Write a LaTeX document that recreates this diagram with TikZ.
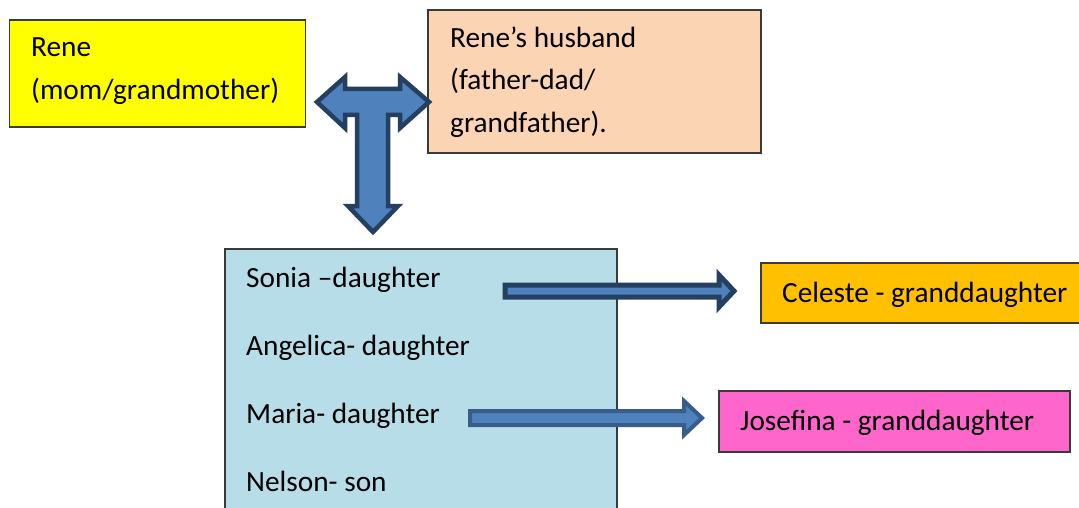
\documentclass[tikz,border=0pt]{standalone}
\usepackage{fontspec}
\setmainfont{Carlito}
\definecolor{boxline}{HTML}{3A3A3A}
\definecolor{yel}{HTML}{FFFF00}
\definecolor{peach}{HTML}{FBD4B4}
\definecolor{lblue}{HTML}{B7DDE8}
\definecolor{orng}{HTML}{FFC000}
\definecolor{pnk}{HTML}{FF66CC}
\definecolor{afill}{HTML}{4F81BD}
\definecolor{adark}{HTML}{243F60}
\definecolor{amid}{HTML}{385D8A}
\tikzset{
  boxstyle/.style={draw=boxline, line width=1.3pt, rectangle, inner sep=0pt, outer sep=0pt},
  txt/.style={anchor=base west, inner sep=0pt, font=\fontsize{29.3}{35}\selectfont},
  blockarrow/.style={fill=afill, line join=miter},
}
\begin{document}
\begin{tikzpicture}[x=1pt,y=-1pt]
\useasboundingbox (0,0) rectangle (1079,508);
\clip (0,0) rectangle (1079,508);
\fill[white] (0,0) rectangle (1079,508);
% boxes
\node[boxstyle, fill=yel, minimum width=296pt, minimum height=107pt, anchor=north west] (mom) at (9.5,20) {};
\node[boxstyle, fill=peach, minimum width=333pt, minimum height=143pt, anchor=north west] (dad) at (428,10) {};
\node[boxstyle, fill=lblue, minimum width=392pt, minimum height=280pt, anchor=north west] (kids) at (225,249) {};
\node[boxstyle, fill=orng, minimum width=330pt, minimum height=60pt, anchor=north west] (celeste) at (761,263) {};
\node[boxstyle, fill=pnk, minimum width=351pt, minimum height=61pt, anchor=north west] (josefina) at (719,391) {};
% texts
\node[txt] (t1) at (31,57) {Rene};
\node[txt] (t2) at (31,100) {(mom/grandmother)};
\node[txt] (t3) at (450,48) {Rene’s husband};
\node[txt] (t4) at (450,90) {(father-dad/};
\node[txt] (t5) at (450,132) {grandfather).};
\node[txt] (s1) at (246,287) {Sonia –daughter};
\node[txt] (s2) at (246,355) {Angelica- daughter};
\node[txt] (s3) at (246,423) {Maria- daughter};
\node[txt] (s4) at (246,491) {Nelson- son};
\node[txt] (c1) at (782,302) {Celeste - granddaughter};
\node[txt] (j1) at (740,430) {Josefina - granddaughter};
% T arrow
\draw[blockarrow, draw=adark, line width=4.5pt]
  (317,102) -- (345,77) -- (345,89) -- (400,89) -- (400,77) -- (429,102)
  -- (400,128) -- (400,115) -- (388,115) -- (388,206) -- (398,206) -- (373,232)
  -- (348,206) -- (357,206) -- (357,115) -- (345,115) -- (345,128) -- cycle;
% arrow Sonia -> Celeste
\draw[blockarrow, draw=adark, line width=5pt]
  (505,285) -- (719,285) -- (719,275) -- (734,291) -- (719,307) -- (719,297) -- (505,297) -- cycle;
% arrow Maria -> Josefina
\draw[blockarrow, draw=amid, line width=4pt]
  (470,411) -- (684,411) -- (684,401) -- (702,418) -- (684,435) -- (684,425) -- (470,425) -- cycle;
\end{tikzpicture}
\end{document}
